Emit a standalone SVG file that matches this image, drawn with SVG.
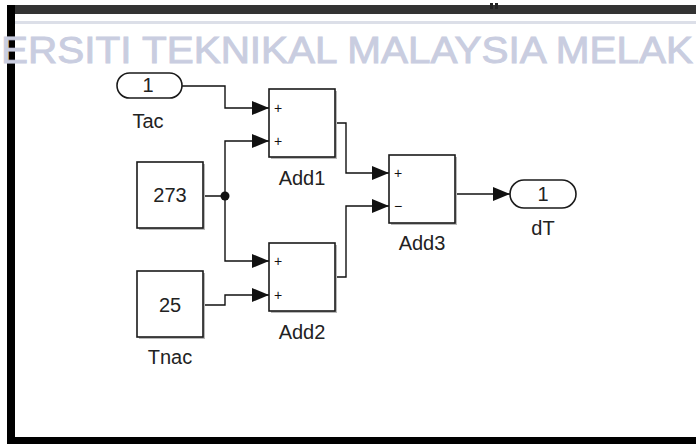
<svg xmlns="http://www.w3.org/2000/svg" width="696" height="444" viewBox="0 0 696 444">
  <style>
    .blk { fill: #ffffff; stroke: #1a1a1a; stroke-width: 1.6; }
    .shd { fill: #b8b8b8; stroke: none; }
    .txt { font-family: "Liberation Sans", Arial, sans-serif; font-size: 20px; fill: #222; text-anchor: middle; }
    .sgn { font-family: "Liberation Sans", Arial, sans-serif; font-size: 14px; fill: #111; }
    .wire { fill: none; stroke: #111; stroke-width: 1.4; marker-end: url(#arr); }
    .wm { font-family: "Liberation Sans", Arial, sans-serif; font-size: 36px; fill: #c9cde0; stroke: #c9cde0; stroke-width: 0.9; }
  </style>
  <defs>
    <marker id="arr" markerUnits="userSpaceOnUse" markerWidth="17" markerHeight="14" refX="17" refY="7" orient="auto">
      <path d="M0,0 L17,7 L0,14 z" fill="#111"/>
    </marker>
  </defs>
  <rect x="0" y="0" width="696" height="444" fill="#ffffff"/>
  <!-- frame -->
  <rect x="7" y="5" width="689" height="9" fill="#333333"/>
  <rect x="7" y="21" width="689" height="3" fill="#dcdfe8"/>
  <rect x="7" y="5" width="8" height="439" fill="#000000"/>
  <rect x="7" y="437" width="689" height="7" fill="#000000"/>
  <rect x="490" y="3" width="3" height="6" fill="#222"/>
  <rect x="495" y="3" width="3" height="6" fill="#222"/>
  <!-- watermark -->
  <text class="wm" x="1" y="63" textLength="692" lengthAdjust="spacingAndGlyphs">ERSITI TEKNIKAL MALAYSIA MELAK</text>

  <g id="connectors">
    <path class="wire" d="M182,86 H225 V108 H269"/>
    <path class="wire" d="M203,196 H225 V141 H269"/>
    <path class="wire" d="M225,196 V261 H269"/>
    <path class="wire" d="M203,305 H225 V295 H269"/>
    <path class="wire" d="M335,123 H346 V173 H389"/>
    <path class="wire" d="M335,277 H346 V206 H389"/>
    <path class="wire" d="M455,194 H510"/>
    <circle cx="225" cy="196" r="4.5" fill="#111"/>
  </g>

  <g id="Tac">
    <rect x="117" y="73" width="65" height="25" rx="12.5" class="blk"/>
    <text class="txt" x="148" y="92">1</text>
    <text class="txt" x="148" y="128">Tac</text>
  </g>
  <g id="C273">
    <rect x="139" y="164" width="66" height="66" class="shd"/>
    <rect x="137" y="162" width="66" height="66" class="blk"/>
    <text class="txt" x="170" y="202">273</text>
  </g>
  <g id="Tnac">
    <rect x="139" y="273" width="66" height="66" class="shd"/>
    <rect x="137" y="271" width="66" height="66" class="blk"/>
    <text class="txt" x="170" y="312">25</text>
    <text class="txt" x="170" y="364">Tnac</text>
  </g>
  <g id="Add1">
    <rect x="271" y="91" width="66" height="68" class="shd"/>
    <rect x="269" y="89" width="66" height="68" class="blk"/>
    <text class="sgn" x="274" y="113">+</text>
    <text class="sgn" x="274" y="146">+</text>
    <text class="txt" x="302" y="185">Add1</text>
  </g>
  <g id="Add2">
    <rect x="271" y="245" width="66" height="68" class="shd"/>
    <rect x="269" y="243" width="66" height="68" class="blk"/>
    <text class="sgn" x="274" y="266">+</text>
    <text class="sgn" x="274" y="300">+</text>
    <text class="txt" x="302" y="339">Add2</text>
  </g>
  <g id="Add3">
    <rect x="391" y="157" width="66" height="68" class="shd"/>
    <rect x="389" y="155" width="66" height="68" class="blk"/>
    <text class="sgn" x="394" y="178">+</text>
    <text class="sgn" x="394" y="211">−</text>
    <text class="txt" x="422" y="250">Add3</text>
  </g>
  <g id="dT">
    <rect x="510" y="180" width="66" height="28" rx="14" class="blk"/>
    <text class="txt" x="543" y="201">1</text>
    <text class="txt" x="543" y="235">dT</text>
  </g>
</svg>
